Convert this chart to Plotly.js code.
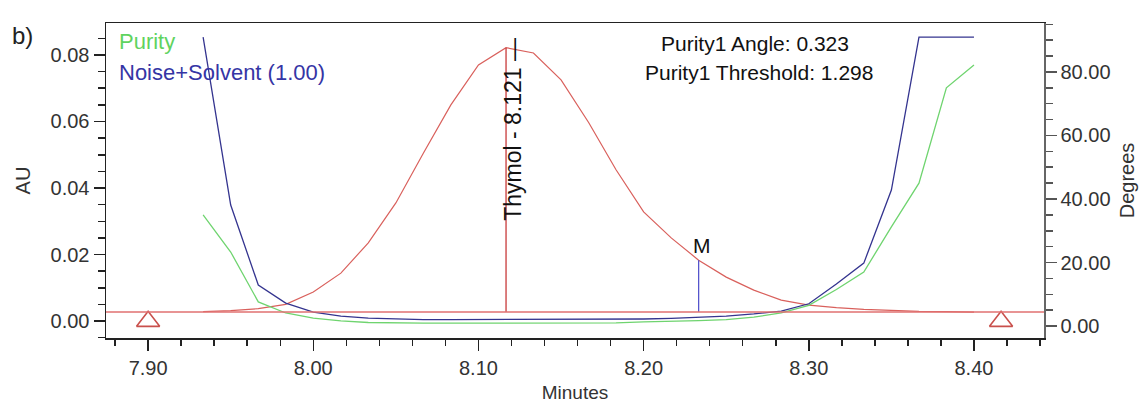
<!DOCTYPE html>
<html>
<head>
<meta charset="utf-8">
<script src="https://cdn.plot.ly/plotly-3.0.1.min.js"></script>
<style>html,body{margin:0;padding:0;background:#fff;}#chart{width:1145px;height:405px;}</style>
</head>
<body>
<div id="chart"></div>
<script>
// Time axis (minutes), one point per second
const minutes = [7.9333,7.95,7.9667,7.9833,8.00,8.0167,8.0333,8.05,8.0667,8.0833,8.10,8.1167,8.1333,8.15,8.1667,8.1833,8.20,8.2167,8.2333,8.25,8.2667,8.2833,8.30,8.3167,8.3333,8.35,8.3667,8.3833,8.40];
// Chromatogram (AU)
const absorbance = [0.0028,0.0031,0.0037,0.0050,0.0087,0.0144,0.0235,0.0355,0.0505,0.0650,0.0770,0.0822,0.0806,0.0725,0.0597,0.0455,0.0328,0.0250,0.0183,0.0132,0.0093,0.0063,0.0048,0.0040,0.0035,0.0031,0.0029,0.0028,0.0027];
// Purity angle (degrees)
const purity = [35.0,23.3,7.6,4.1,2.5,1.6,1.1,0.9,0.9,0.9,0.9,0.9,0.9,0.9,0.9,1.0,1.3,1.4,1.7,2.0,2.8,4.1,6.5,11.5,17.0,31.2,45.0,75.0,82.2];
// Noise + solvent threshold (degrees)
const noiseSolvent = [91.0,38.1,12.9,7.2,4.4,3.1,2.5,2.2,2.0,2.0,2.0,2.0,2.0,2.0,2.0,2.1,2.2,2.4,2.7,3.1,3.8,4.7,7.0,13.2,19.8,42.8,91.0,91.0,91.0];

const baselineAU = 0.0027;
const integrationMarks = [7.90, 8.4164];
const integrationMarkAU = [-0.0001, -0.0001];
const peakApex = {time: 8.1167, au: 0.0822};
const peakLabelTime = 8.121;
const peakLabel = "Thymol - 8.121 \u2014";
const mPoint = {time: 8.2333, au: 0.0183};

const xTickVals = [7.90, 8.00, 8.10, 8.20, 8.30, 8.40];
const xTickText = ["7.90", "8.00", "8.10", "8.20", "8.30", "8.40"];

const FONT = "Liberation Sans, Arial, sans-serif";

const traces = [
  {x: minutes, y: absorbance, type: 'scatter', mode: 'lines', line: {color: '#d9605c', width: 1.2}, xaxis: 'x', yaxis: 'y', hoverinfo: 'skip', showlegend: false},
  {x: minutes, y: purity, type: 'scatter', mode: 'lines', line: {color: '#6fd46f', width: 1.3}, xaxis: 'x', yaxis: 'y2', showlegend: false},
  {x: minutes, y: noiseSolvent, type: 'scatter', mode: 'lines', line: {color: '#34348f', width: 1.3}, xaxis: 'x', yaxis: 'y2', showlegend: false},
  {x: [peakApex.time, peakApex.time], y: [baselineAU, peakApex.au], type: 'scatter', mode: 'lines', line: {color: '#c83a3a', width: 1.3}, showlegend: false},
  {x: [mPoint.time, mPoint.time], y: [baselineAU, mPoint.au], type: 'scatter', mode: 'lines', line: {color: '#5555cc', width: 1.3}, showlegend: false},
  {x: integrationMarks, y: integrationMarkAU, type: 'scatter', mode: 'markers', marker: {symbol: 'triangle-up-open', size: 20, color: '#c9504c', line: {color: '#c9504c', width: 1.6}}, showlegend: false}
];

const layout = {
  width: 1145, height: 405,
  margin: {l: 106, r: 101, t: 23, b: 67},
  paper_bgcolor: '#ffffff', plot_bgcolor: '#ffffff',
  font: {family: FONT, size: 20, color: '#222'},
  showlegend: false,
  xaxis: {
    range: [7.8745, 8.4424],
    tickvals: xTickVals, ticktext: xTickText,
    ticks: 'outside', ticklen: 11, tickwidth: 1.5, tickcolor: '#222',
    minor: {dtick: 0.02, tick0: 7.88, ticks: 'outside', ticklen: 6, tickwidth: 1.5, tickcolor: '#222'},
    showline: true, linecolor: '#222', linewidth: 1.5, mirror: true,
    showgrid: false, zeroline: false,
    tickfont: {size: 20, color: '#333'},
    title: {text: 'Minutes', font: {size: 19, color: '#333'}, standoff: 8}
  },
  yaxis: {
    range: [-0.00511, 0.08962],
    dtick: 0.02, tick0: 0, tickformat: '.2f',
    ticks: 'outside', ticklen: 11, tickwidth: 1.5, tickcolor: '#222',
    minor: {dtick: 0.005, ticks: 'outside', ticklen: 7, tickwidth: 1.5, tickcolor: '#222'},
    showline: true, linecolor: '#222', linewidth: 1.5, mirror: true,
    showgrid: false, zeroline: false,
    tickfont: {size: 20, color: '#333'},
    title: {text: 'AU', font: {size: 20, color: '#333'}, standoff: 14}
  },
  yaxis2: {
    overlaying: 'y', side: 'right', anchor: 'x',
    range: [-3.78, 95.43],
    dtick: 20, tick0: 0, tickformat: '.2f',
    ticks: 'outside', ticklen: 11, tickwidth: 1.5, tickcolor: '#555',
    minor: {dtick: 5, ticks: 'outside', ticklen: 7, tickwidth: 1.5, tickcolor: '#555'},
    showline: true, linecolor: '#666', linewidth: 1.5,
    showgrid: false, zeroline: false,
    tickfont: {size: 20, color: '#333'},
    title: {text: 'Degrees', font: {size: 20, color: '#333'}, standoff: 10}
  },
  shapes: [
    {type: 'line', xref: 'paper', x0: 0, x1: 1, yref: 'y', y0: baselineAU, y1: baselineAU, line: {color: '#e07070', width: 1.4}}
  ],
  annotations: [
    {text: 'b)', xref: 'paper', yref: 'paper', x: -0.102, y: 1.0095, xanchor: 'left', yanchor: 'top', showarrow: false, font: {size: 24, color: '#222'}},
    {text: 'Purity', xref: 'paper', yref: 'paper', x: 0.0117, y: 0.9397, xanchor: 'left', yanchor: 'middle', showarrow: false, font: {size: 22, color: '#5fd35f'}},
    {text: 'Noise+Solvent (1.00)', xref: 'paper', yref: 'paper', x: 0.0117, y: 0.8444, xanchor: 'left', yanchor: 'middle', showarrow: false, font: {size: 22, color: '#3535a5'}},
    {text: 'Purity1 Angle: 0.323', xref: 'paper', yref: 'paper', x: 0.6919, y: 0.9365, xanchor: 'center', yanchor: 'middle', showarrow: false, font: {size: 21, color: '#111'}},
    {text: 'Purity1 Threshold: 1.298', xref: 'paper', yref: 'paper', x: 0.696, y: 0.8413, xanchor: 'center', yanchor: 'middle', showarrow: false, font: {size: 21, color: '#111'}},
    {text: peakLabel, xref: 'x', yref: 'paper', x: peakLabelTime, y: 0.958, xanchor: 'center', yanchor: 'top', textangle: -90, showarrow: false, font: {size: 23, color: '#111'}},
    {text: 'M', xref: 'x', yref: 'y', x: mPoint.time, y: mPoint.au, xanchor: 'center', yanchor: 'bottom', yshift: 1, xshift: 3, showarrow: false, font: {size: 21, color: '#111'}}
  ]
};

Plotly.newPlot('chart', traces, layout, {displayModeBar: false, staticPlot: true});
</script>
</body>
</html>
